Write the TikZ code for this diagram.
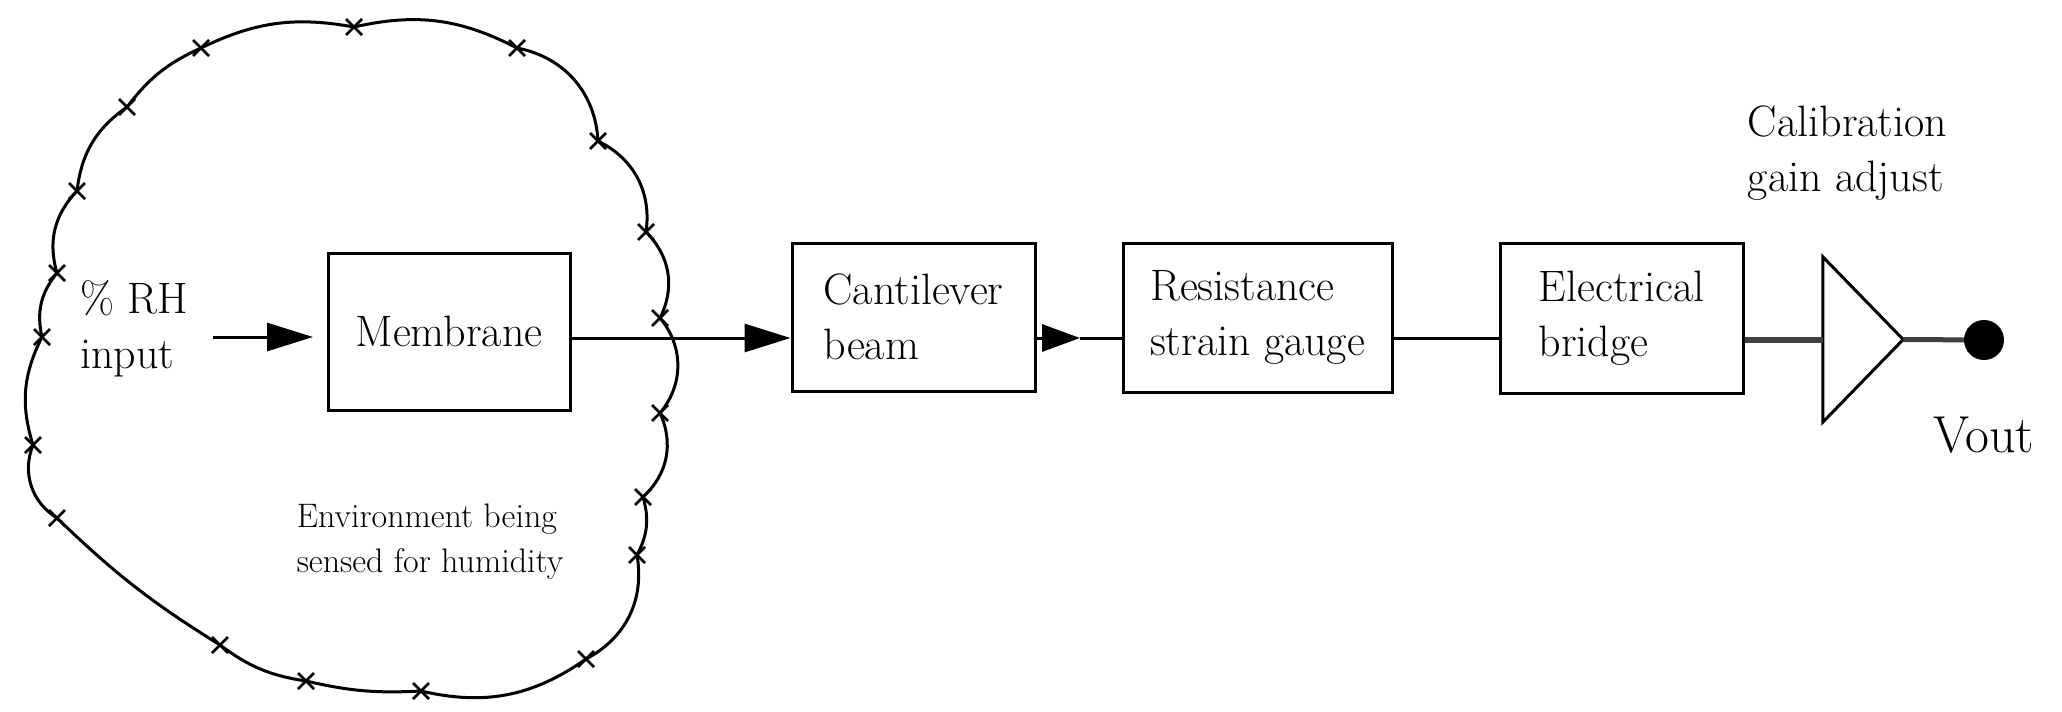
\documentclass[tikz,border=0pt]{standalone}
\usetikzlibrary{arrows.meta}
\tikzset{
  blk/.style={draw, line width=3pt, inner sep=0pt, align=left, font=\fontsize{44}{55}\selectfont},
  lbl/.style={inner sep=0pt, align=left, font=\fontsize{44}{55}\selectfont},
  wire/.style={line width=3pt},
  tip/.style={-{Triangle[length=46pt,width=28pt]}}
}
\begin{document}
\begin{tikzpicture}[x=1pt,y=-1pt]
	\useasboundingbox (0,0) rectangle (2062,712);
	% cloud round the sensed environment
	\draw[line width=3pt, line join=round] (354,27) to[bend left=20] (517,48)
		to[bend left=38] (598,141) to[bend left=36] (646,232)
		to[bend left=36] (660,318) to[bend left=40] (660,413)
		to[bend left=36] (643,497) to[bend left=22] (637,555)
		to[bend left=36] (586,659) to[bend left=24] (421,691)
		to[bend left=8] (306,681) to[bend left=14] (220,645)
		to[bend left=6] (57,518) to[bend left=40] (33,445)
		to[bend left=22] (42,337) to[bend left=26] (57,273)
		to[bend left=30] (77,191) to[bend left=24] (127,107)
		to[bend left=14] (201,48) to[bend left=18] (354,27);
	\foreach \x/\y in {354/27, 517/48, 598/141, 646/232, 660/318, 660/413, 643/497, 637/555,
		586/659, 421/691, 306/681, 220/645, 57/518, 33/445, 42/337, 57/273, 77/191, 127/107, 201/48}
		\draw[line width=2.5pt] (\x,\y) +(-8,-8) -- +(8,8) (\x,\y) +(-8,8) -- +(8,-8);
	\node[lbl, font=\fontsize{34}{45}\selectfont] (env) at (430,542) {Environment being\\sensed for humidity};
	% blocks
	\node[lbl] (rh) at (134,328.5) {\% RH\\input};
	\node[blk, minimum width=242pt, minimum height=157pt] (mem) at (449,331.5) {Membrane};
	\node[blk, minimum width=243pt, minimum height=148pt] (cant) at (913.5,317) {Cantilever\\beam};
	\node[blk, minimum width=269pt, minimum height=149pt] (res) at (1257.5,317.5) {Resistance\\strain gauge};
	\node[blk, minimum width=243pt, minimum height=150pt] (bridge) at (1621.5,318) {Electrical\\bridge};
	\node[minimum width=80pt, minimum height=165pt, inner sep=0pt] (amp) at (1863,339.5) {};
	\draw[line width=3pt] (amp.north west) -- (amp.east) -- (amp.south west) -- cycle;
	\node[circle, fill, minimum size=40pt, inner sep=0pt] (out) at (1984,340) {};
	\node[lbl] (cal) at (1847.5,153) {Calibration\\gain adjust};
	\node[anchor=base, inner sep=0pt, font=\fontsize{52}{60}\selectfont] (vout) at (1983.5,452) {Vout};
	% connectors
	\coordinate (axis) at (0,338);
	\coordinate (rhin) at (213,337);
	\coordinate (rhtip) at (313,337);
	\coordinate (cantout) at (1080,338);
	\draw[wire, tip] (rhin) -- (rhtip);
	\draw[wire, tip] (mem.east |- axis) -- (cant.west |- axis);
	\draw[wire, -{Triangle[length=38pt,width=27pt]}] (cant.east |- axis) -- (cantout);
	\draw[wire] (cantout) -- (res.west |- axis);
	\draw[wire] (res.east |- axis) -- (bridge.west |- axis);
	\draw[line width=6pt, black!75] (bridge.east |- amp.west) -- (amp.west);
	\draw[line width=5pt, black!75] (amp.east) -- (out);
\end{tikzpicture}
\end{document}
